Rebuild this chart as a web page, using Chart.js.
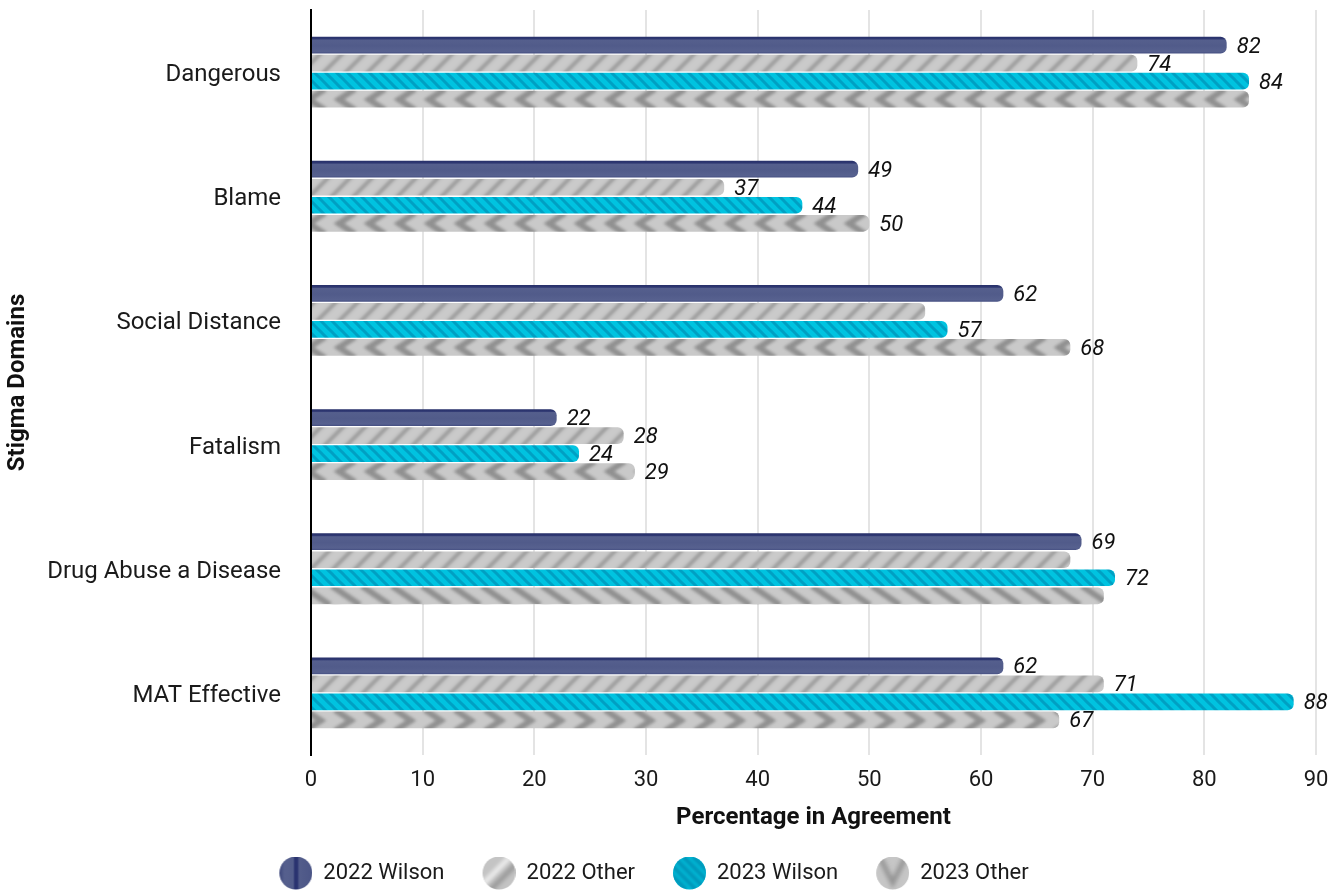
<!DOCTYPE html>
<html>
<head>
<meta charset="utf-8">
<script src="https://cdn.jsdelivr.net/npm/chart.js@4/dist/chart.umd.min.js"></script>
<style>
  html, body { margin: 0; padding: 0; background: #ffffff; }
  #wrap { width: 1343px; height: 894px; position: relative; }
</style>
</head>
<body>
<div id="wrap"><canvas id="c" width="1343" height="894"></canvas></div>
<script>
// ---- data ----
const categories = ['Dangerous', 'Blame', 'Social Distance', 'Fatalism', 'Drug Abuse a Disease', 'MAT Effective'];
const seriesNames = ['2022 Wilson', '2022 Other', '2023 Wilson', '2023 Other'];
const wilson2022 = [82, 49, 62, 22, 69, 62];
const other2022 = [74, 37, 55, 28, 68, 71];
const wilson2023 = [84, 44, 57, 24, 72, 88];
const other2023 = [84, 50, 68, 29, 71, 67];
// value labels as printed in the picture (null = no label shown)
const wilson2022Labels = ['82', '49', '62', '22', '69', '62'];
const other2022Labels = ['74', '37', null, '28', null, '71'];
const wilson2023Labels = ['84', '44', '57', '24', '72', '88'];
const other2023Labels = [null, '50', '68', '29', null, '67'];
const xTickValues = [0, 10, 20, 30, 40, 50, 60, 70, 80, 90];

// ---- styling helpers ----
const CAT_PCT = 0.58;
const BAR_PCT = 0.93;
const FONT = 'Roboto';
const LEFT_SHIFT = 41;

function barGeom(c) {
  const chart = c.chart;
  const ys = chart.scales && chart.scales.y;
  if (!ys || ys.height === undefined || c.dataIndex === undefined) return null;
  const center = ys.getPixelForValue(c.dataIndex);
  const band = ys.height / categories.length;
  const slot = band * CAT_PCT / 4;
  const bc = center + (c.datasetIndex - 1.5) * slot;
  const h = slot * BAR_PCT;
  return { top: bc - h / 2, h: h, center: bc };
}

function mk(w, h) {
  const cv = document.createElement('canvas');
  cv.width = w; cv.height = h;
  return cv;
}

// 2022 Wilson: navy with darker top edge
function navyFill(c) {
  const g = barGeom(c);
  if (!g) return '#535d8b';
  const ctx = c.chart.ctx;
  const gr = ctx.createLinearGradient(0, g.top, 0, g.top + g.h);
  gr.addColorStop(0, '#27306a');
  gr.addColorStop(0.13, '#2f3872');
  gr.addColorStop(0.2, '#555f8d');
  gr.addColorStop(0.55, '#515b8a');
  gr.addColorStop(0.88, '#57618f');
  gr.addColorStop(1, '#454f82');
  return gr;
}

// 2022 Other: gray with soft "/" stripes
function makeSlashPattern() {
  const P = 22;
  const cv = mk(P, P);
  const x = cv.getContext('2d');
  x.fillStyle = '#cacaca';
  x.fillRect(0, 0, P, P);
  x.filter = 'blur(1.8px)';
  x.strokeStyle = 'rgba(125,125,125,0.6)';
  x.lineWidth = 4;
  for (let k = -1; k <= 1; k++) {
    x.beginPath();
    x.moveTo(-P + k * P, 2 * P);
    x.lineTo(2 * P + k * P, -P);
    x.stroke();
  }
  return cv;
}
// 2023 Wilson: cyan with "\" stripes
function makeCyanPattern() {
  const P = 11;
  const cv = mk(P, P);
  const x = cv.getContext('2d');
  x.fillStyle = '#00c3e0';
  x.fillRect(0, 0, P, P);
  x.strokeStyle = 'rgba(0,125,165,0.5)';
  x.lineWidth = 3;
  for (let k = -2; k <= 2; k++) {
    x.beginPath();
    x.moveTo(k * P - P, -P);
    x.lineTo(k * P + 2 * P, 2 * P);
    x.stroke();
  }
  return cv;
}
const slashTile = makeSlashPattern();
const cyanTile = makeCyanPattern();
let slashPat = null, cyanPat = null;
function slashFill(c) {
  if (!slashPat) slashPat = c.chart.ctx.createPattern(slashTile, 'repeat');
  return slashPat;
}
function cyanFill(c) {
  if (!cyanPat) cyanPat = c.chart.ctx.createPattern(cyanTile, 'repeat');
  return cyanPat;
}

// 2023 Other: gray with chevrons, shape differs per category
const chevronKinds = ['lt', 'lt', 'lt', 'lt', 'back', 'gt'];
function makeChevronTile(kind, h) {
  const W = 30;
  const H = Math.max(6, Math.round(h));
  const cv = mk(W, H);
  const x = cv.getContext('2d');
  x.fillStyle = '#c9c9c9';
  x.fillRect(0, 0, W, H);
  x.filter = 'blur(1.8px)';
  x.strokeStyle = 'rgba(125,125,125,0.75)';
  x.lineWidth = 6;
  x.lineJoin = 'miter';
  for (let k = -1; k <= 1; k++) {
    const o = k * W;
    x.beginPath();
    if (kind === 'lt') {
      x.moveTo(o + 25, -2); x.lineTo(o + 9, H / 2); x.lineTo(o + 25, H + 2);
    } else if (kind === 'gt') {
      x.moveTo(o + 5, -2); x.lineTo(o + 21, H / 2); x.lineTo(o + 5, H + 2);
    } else {
      x.moveTo(o + 2, -1); x.lineTo(o + 30, H + 1);
    }
    x.stroke();
  }
  return cv;
}
function chevronFill(c) {
  const g = barGeom(c);
  if (!g) return '#c9c9c9';
  const tile = makeChevronTile(chevronKinds[c.dataIndex], g.h);
  const p = c.chart.ctx.createPattern(tile, 'repeat');
  p.setTransform(new DOMMatrix().translate(0, Math.round(g.top)));
  return p;
}

// legend markers: circle on the right half of a 66px-wide image
const LEG_R = 16.5, LEG_GAP = 33;
function legendImage(kind) {
  const R = LEG_R, ML = LEG_GAP;
  const W = ML + 2 * R, H = 34;
  const cv = mk(W, H);
  const x = cv.getContext('2d');
  const cx = ML + R, cy = H / 2;
  x.save();
  x.beginPath();
  x.arc(cx, cy, R, 0, Math.PI * 2);
  x.clip();
  if (kind === 0) {
    const g = x.createLinearGradient(cx - R, 0, cx + R, 0);
    g.addColorStop(0, '#3c467b');
    g.addColorStop(0.15, '#56608e');
    g.addColorStop(0.42, '#535d8b');
    g.addColorStop(0.47, '#2a3370');
    g.addColorStop(0.55, '#2a3370');
    g.addColorStop(0.6, '#535d8b');
    g.addColorStop(1, '#4b5586');
    x.fillStyle = g;
    x.fillRect(0, 0, W, H);
  } else if (kind === 1) {
    x.fillStyle = '#c4c4c4';
    x.fillRect(0, 0, W, H);
    x.filter = 'blur(2px)';
    x.strokeStyle = 'rgba(245,245,245,0.9)';
    x.lineWidth = 5;
    x.beginPath(); x.moveTo(cx - R, cy + R * 0.7); x.lineTo(cx + R * 0.7, cy - R); x.stroke();
    x.strokeStyle = 'rgba(140,140,140,0.8)';
    x.beginPath(); x.moveTo(cx - R * 0.6, cy + R * 1.1); x.lineTo(cx + R * 1.1, cy - R * 0.6); x.stroke();
  } else if (kind === 2) {
    x.fillStyle = '#00bcd9';
    x.fillRect(0, 0, W, H);
    x.filter = 'blur(1.5px)';
    x.strokeStyle = 'rgba(0,120,160,0.6)';
    x.lineWidth = 4;
    for (let k = -3; k <= 3; k++) {
      x.beginPath(); x.moveTo(cx - R + k * 10, cy - R); x.lineTo(cx + R + k * 10, cy + R); x.stroke();
    }
  } else {
    x.fillStyle = '#c6c6c6';
    x.fillRect(0, 0, W, H);
    x.filter = 'blur(2px)';
    x.strokeStyle = 'rgba(140,140,140,0.85)';
    x.lineWidth = 5;
    x.beginPath(); x.moveTo(cx - R * 0.8, cy - R); x.lineTo(cx, cy + R * 0.6); x.lineTo(cx + R * 0.8, cy - R); x.stroke();
  }
  x.restore();
  return cv;
}
const legendImgs = [0, 1, 2, 3].map(legendImage);

// value labels plugin
const valueLabels = {
  id: 'valueLabels',
  afterDatasetsDraw(chart) {
    const ctx = chart.ctx;
    const all = [wilson2022Labels, other2022Labels, wilson2023Labels, other2023Labels];
    ctx.save();
    ctx.font = 'italic 22px ' + FONT;
    ctx.fillStyle = '#111111';
    ctx.textAlign = 'left';
    ctx.textBaseline = 'middle';
    chart.data.datasets.forEach((ds, di) => {
      const meta = chart.getDatasetMeta(di);
      meta.data.forEach((el, i) => {
        const t = all[di][i];
        if (t === null) return;
        ctx.fillText(t, el.x + 10, el.y + 2);
      });
    });
    ctx.restore();
  }
};

const fills = [navyFill, slashFill, cyanFill, chevronFill];
const values = [wilson2022, other2022, wilson2023, other2023];

new Chart(document.getElementById('c'), {
  type: 'bar',
  data: {
    labels: categories,
    datasets: seriesNames.map((name, i) => ({
      label: name,
      data: values[i],
      backgroundColor: fills[i],
      borderWidth: 0,
      borderRadius: 6,
      borderSkipped: 'start',
      categoryPercentage: CAT_PCT,
      barPercentage: BAR_PCT
    }))
  },
  options: {
    indexAxis: 'y',
    responsive: false,
    animation: false,
    layout: { padding: { top: 10, right: 27, left: -LEFT_SHIFT, bottom: 0 } },
    scales: {
      x: {
        min: 0,
        max: 90,
        afterBuildTicks: (s) => { s.ticks = xTickValues.map(v => ({ value: v })); },
        grid: { color: '#e4e4e4', lineWidth: 2, drawTicks: false },
        border: { display: false },
        ticks: { padding: 12, color: '#1a1a1a', font: { family: FONT, size: 22 } },
        title: {
          display: true,
          text: 'Percentage in Agreement',
          color: '#111111',
          font: { family: FONT, size: 24, weight: 'bold' },
          padding: { top: 0, bottom: 25 }
        },
        afterFit: (s) => { s.height = 102; s.paddingLeft = 0; s.paddingRight = 0; }
      },
      y: {
        grid: { display: false, drawTicks: false },
        border: { display: true, color: '#000000', width: 2 },
        ticks: { padding: 30, labelOffset: 3, color: '#1a1a1a', font: { family: FONT, size: 24 } },
        title: {
          display: true,
          text: 'Stigma Domains',
          color: '#111111',
          font: { family: FONT, size: 24, weight: 'bold' },
          padding: { top: 18 + LEFT_SHIFT - 14.4, bottom: 0 }
        },
        afterFit: (s) => { s.width = 311 + LEFT_SHIFT; s.paddingTop = 0; s.paddingBottom = 0; }
      }
    },
    plugins: {
      legend: {
        position: 'bottom',
        labels: {
          usePointStyle: true,
          pointStyleWidth: LEG_GAP + 2 * LEG_R,
          padding: 5,
          color: '#1a1a1a',
          font: { family: FONT, size: 22 },
          generateLabels: (chart) => {
            const items = Chart.defaults.plugins.legend.labels.generateLabels(chart);
            items.forEach((it, i) => { it.pointStyle = legendImgs[i]; });
            return items;
          }
        }
      },
      tooltip: { enabled: false }
    }
  },
  plugins: [valueLabels]
});
</script>
</body>
</html>
